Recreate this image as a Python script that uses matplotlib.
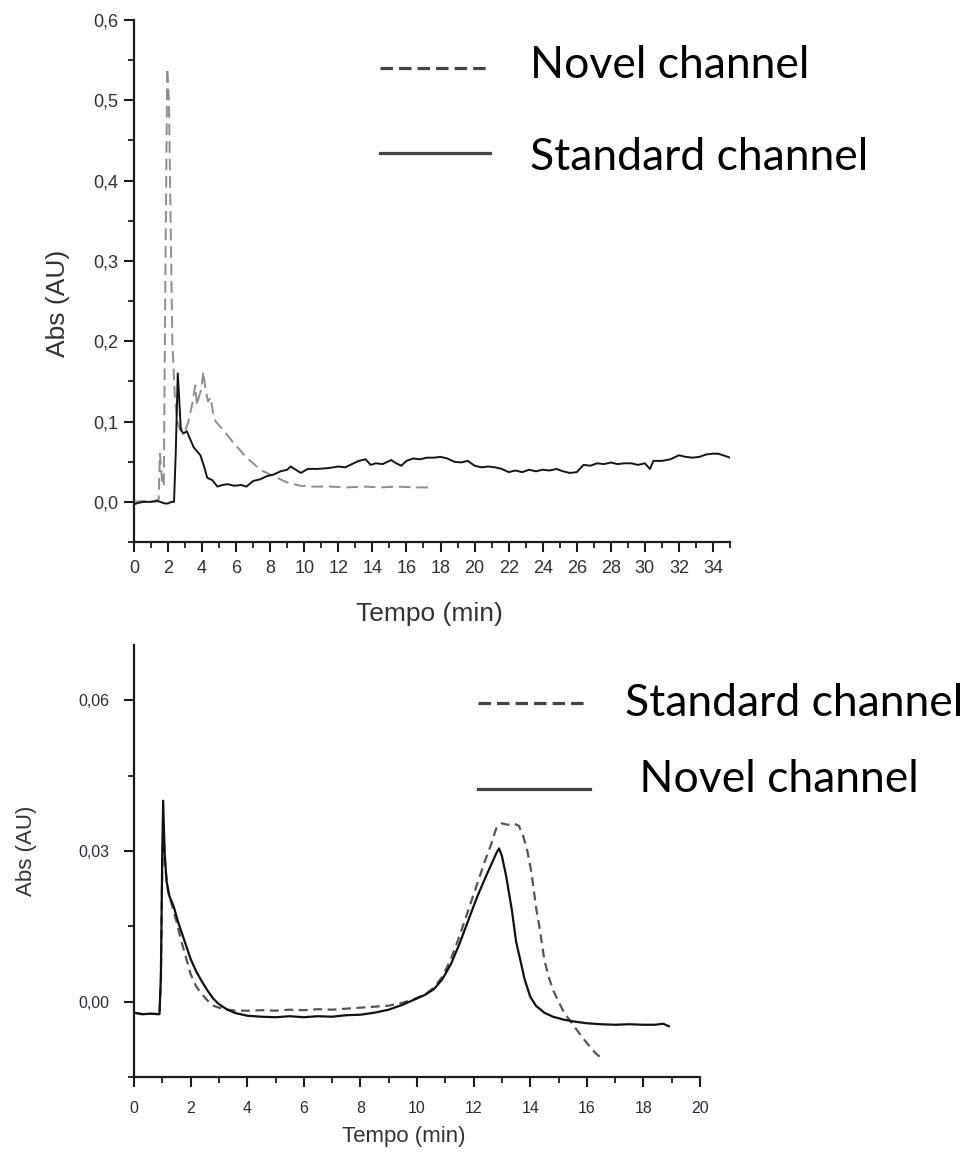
import matplotlib
matplotlib.use("Agg")
import matplotlib.pyplot as plt
from matplotlib.lines import Line2D
from matplotlib.ticker import FixedLocator, MultipleLocator, FixedFormatter

# ---- Upper chromatogram (0-35 min) ----
top_std_t = [0, 0.3, 0.6, 1.0, 1.4, 1.8, 2.0, 2.2, 2.35, 2.45, 2.57, 2.65, 2.75, 2.9,
             3.1, 3.3, 3.5, 3.9, 4.1, 4.3, 4.6, 4.9, 5.2, 5.5, 5.9, 6.3, 6.6, 7.0,
             7.4, 7.8, 8.2, 8.6, 9.0, 9.2, 9.5, 9.8, 10.2, 10.8, 11.4, 12.0, 12.4,
             12.8, 13.2, 13.6, 13.9, 14.2, 14.6, 15.1, 15.4, 15.7, 16.0, 16.4, 16.8,
             17.2, 17.6, 18.0, 18.4, 18.8, 19.2, 19.6, 20.0, 20.4, 20.8, 21.2, 21.6,
             22.0, 22.4, 22.8, 23.2, 23.6, 24.0, 24.4, 24.8, 25.2, 25.6, 26.0, 26.4,
             26.8, 27.2, 27.6, 28.0, 28.4, 28.8, 29.2, 29.6, 30.0, 30.3, 30.5, 31.0,
             31.5, 32.0, 32.4, 32.8, 33.2, 33.6, 34.0, 34.3, 34.6, 35.0]
top_std_y = [-0.003, -0.001, 0.0, 0.0, 0.001, -0.002, -0.002, 0.0, 0.0, 0.06,
             0.16, 0.13, 0.09, 0.085, 0.088, 0.078, 0.068, 0.058, 0.045, 0.030,
             0.027, 0.019, 0.021, 0.022, 0.020, 0.021, 0.019, 0.026, 0.028, 0.032,
             0.034, 0.038, 0.040, 0.044, 0.040, 0.036, 0.041, 0.041, 0.042, 0.044,
             0.043, 0.047, 0.051, 0.053, 0.046, 0.048, 0.047, 0.052, 0.048, 0.045,
             0.051, 0.054, 0.053, 0.055, 0.055, 0.056, 0.054, 0.050, 0.049, 0.051,
             0.045, 0.043, 0.044, 0.043, 0.041, 0.037, 0.039, 0.037, 0.040, 0.038,
             0.040, 0.039, 0.041, 0.038, 0.036, 0.037, 0.046, 0.045, 0.048, 0.047,
             0.049, 0.047, 0.048, 0.048, 0.046, 0.048, 0.041, 0.051, 0.051, 0.053,
             0.058, 0.056, 0.055, 0.056, 0.059, 0.060, 0.060, 0.058, 0.055]

top_nov_t = [0, 0.5, 1.0, 1.45, 1.52, 1.6, 1.68, 1.75, 1.85, 1.95, 2.05, 2.15, 2.25,
             2.4, 2.55, 2.7, 2.85, 3.0, 3.2, 3.4, 3.6, 3.7, 3.8, 3.95, 4.07, 4.2,
             4.35, 4.5, 4.65, 4.8, 5.0, 5.3, 5.6, 5.9, 6.2, 6.6, 7.0, 7.4, 7.8, 8.2,
             8.6, 9.0, 9.4, 9.8, 10.5, 11.5, 12.5, 13.5, 14.5, 15.5, 16.5, 17.3]
top_nov_y = [0.0, 0.001, 0.0, 0.003, 0.06, 0.04, 0.02, 0.02, 0.30, 0.54, 0.50,
             0.35, 0.20, 0.13, 0.10, 0.09, 0.092, 0.088, 0.10, 0.12, 0.145, 0.12,
             0.13, 0.14, 0.162, 0.14, 0.125, 0.13, 0.11, 0.10, 0.095, 0.088, 0.08,
             0.072, 0.065, 0.055, 0.048, 0.040, 0.036, 0.032, 0.028, 0.024, 0.022,
             0.020, 0.019, 0.019, 0.018, 0.019, 0.018, 0.019, 0.018, 0.018]

top_yticks = [0.0, 0.1, 0.2, 0.3, 0.4, 0.5, 0.6]
top_yticklabels = ["0,0", "0,1", "0,2", "0,3", "0,4", "0,5", "0,6"]
top_xticks = list(range(0, 36, 2))
top_legend = ["Novel channel", "Standard channel"]

# ---- Lower chromatogram (0-20 min) ----
bot_nov_t = [0, 0.3, 0.6, 0.9, 0.95, 1.0, 1.03, 1.08, 1.15, 1.25, 1.4, 1.55, 1.7,
             1.85, 2.0, 2.2, 2.4, 2.6, 2.8, 3.0, 3.3, 3.6, 4.0, 4.5, 5.0, 5.5, 6.0,
             6.5, 7.0, 7.5, 8.0, 8.5, 9.0, 9.5, 9.9, 10.3, 10.6, 10.9, 11.2, 11.5,
             11.8, 12.1, 12.4, 12.6, 12.8, 12.9, 13.0, 13.15, 13.35, 13.5, 13.65,
             13.8, 14.0, 14.2, 14.5, 14.8, 15.2, 15.6, 16.0, 16.5, 17.0, 17.5, 18.0,
             18.4, 18.7, 18.9]
bot_nov_y = [-0.0022, -0.0025, -0.0024, -0.0025, 0.005, 0.030, 0.040, 0.030,
             0.024, 0.021, 0.019, 0.016, 0.0135, 0.011, 0.0085, 0.0060, 0.0040,
             0.0022, 0.0006, -0.0005, -0.0016, -0.0023, -0.0028, -0.0030, -0.0031,
             -0.0029, -0.0031, -0.0029, -0.0030, -0.0027, -0.0026, -0.0022, -0.0016,
             -0.0006, 0.0004, 0.0014, 0.0025, 0.0045, 0.0075, 0.0115, 0.016, 0.0205,
             0.0245, 0.027, 0.0295, 0.0305, 0.029, 0.025, 0.0183, 0.012, 0.0083,
             0.0045, 0.001, -0.0008, -0.0022, -0.0030, -0.0036, -0.0040, -0.0043,
             -0.0045, -0.0046, -0.0045, -0.0046, -0.0046, -0.0044, -0.0049]

bot_std_t = [0, 0.3, 0.6, 0.9, 0.95, 1.0, 1.04, 1.1, 1.2, 1.35, 1.5, 1.65, 1.8, 2.0,
             2.2, 2.4, 2.6, 2.8, 3.0, 3.3, 3.6, 4.0, 4.5, 5.0, 5.5, 6.0, 6.5, 7.0,
             7.5, 8.0, 8.5, 9.0, 9.5, 9.9, 10.3, 10.6, 10.9, 11.2, 11.5, 11.8, 12.1,
             12.4, 12.6, 12.8, 13.0, 13.2, 13.4, 13.6, 13.75, 13.9, 14.05, 14.2,
             14.35, 14.5, 14.65, 14.8, 15.0, 15.2, 15.5, 15.8, 16.1, 16.3, 16.5]
bot_std_y = [-0.0022, -0.0025, -0.0024, -0.0025, 0.004, 0.028, 0.035, 0.027,
             0.022, 0.019, 0.016, 0.0125, 0.0095, 0.0055, 0.0030, 0.0015, 0.0002,
             -0.0008, -0.0012, -0.0016, -0.0018, -0.0018, -0.0017, -0.0018, -0.0016,
             -0.0017, -0.0015, -0.0016, -0.0014, -0.0012, -0.0010, -0.0008, -0.0002,
             0.0005, 0.0015, 0.0028, 0.005, 0.0085, 0.013, 0.018, 0.023, 0.028,
             0.031, 0.0345, 0.0355, 0.0352, 0.0355, 0.0350, 0.0330, 0.0300, 0.0255,
             0.019, 0.014, 0.0083, 0.005, 0.0024, 0.0000, -0.0022, -0.0045, -0.0068,
             -0.0089, -0.0102, -0.0112]

bot_yticks = [0.0, 0.03, 0.06]
bot_yticklabels = ["0,00", "0,03", "0,06"]
bot_xticks = list(range(0, 21, 2))
bot_legend = ["Standard channel", " Novel channel"]

W, H = 969, 1155
fig = plt.figure(figsize=(W / 100, H / 100), dpi=100)
fig.patch.set_facecolor("white")


def frac(x0, y0, x1, y1):
    """pixel box (top-left origin) -> figure fraction rect"""
    return [x0 / W, 1 - y1 / H, (x1 - x0) / W, (y1 - y0) / H]


def style_axes(ax, label_size, label_color, ypad, xpad):
    for side in ("top", "right"):
        ax.spines[side].set_visible(False)
    for side in ("left", "bottom"):
        ax.spines[side].set_linewidth(1.6)
        ax.spines[side].set_color("#1a1a1a")
    ax.tick_params(which="major", direction="out", length=7, width=1.5,
                   color="#1a1a1a", labelsize=label_size, labelcolor=label_color)
    ax.tick_params(which="minor", direction="out", length=4, width=1.3,
                   color="#1a1a1a")
    ax.tick_params(axis="y", which="major", pad=ypad)
    ax.tick_params(axis="x", which="major", pad=xpad)
    for lab in ax.get_xticklabels() + ax.get_yticklabels():
        lab.set_fontfamily("Liberation Sans")


# Upper panel
ax1 = fig.add_axes(frac(134, 20, 730, 542))
ax1.plot(top_nov_t, top_nov_y, color="#8e8e8e", lw=1.4, dashes=(6, 3))
ax1.plot(top_std_t, top_std_y, color="#151515", lw=1.4)
ax1.set_xlim(0, 35)
ax1.set_ylim(-0.05, 0.6)
ax1.xaxis.set_major_locator(FixedLocator(top_xticks))
ax1.xaxis.set_minor_locator(MultipleLocator(1))
ax1.yaxis.set_major_locator(FixedLocator(top_yticks))
ax1.yaxis.set_major_formatter(FixedFormatter(top_yticklabels))
ax1.yaxis.set_minor_locator(MultipleLocator(0.05))
style_axes(ax1, 13, "#303030", 4, 6)
ax1.set_xlabel("Tempo (min)", fontsize=19, family="Liberation Sans",
               color="#333333")
ax1.set_ylabel("Abs (AU)", fontsize=19, family="Liberation Sans",
               color="#333333")
ax1.xaxis.set_label_coords((429 - 134) / 596, -(602 - 542) / 522)
ax1.yaxis.set_label_coords(-(134 - 70) / 596, 1 - (303 - 20) / 522)

# Lower panel
ax2 = fig.add_axes(frac(134, 645, 700, 1077))
ax2.plot(bot_std_t, bot_std_y, color="#555555", lw=1.6, dashes=(4, 2.5))
ax2.plot(bot_nov_t, bot_nov_y, color="#111111", lw=1.6)
ax2.set_xlim(0, 20)
ax2.set_ylim(-0.015, 0.071)
ax2.xaxis.set_major_locator(FixedLocator(bot_xticks))
ax2.xaxis.set_minor_locator(MultipleLocator(1))
ax2.yaxis.set_major_locator(FixedLocator(bot_yticks))
ax2.yaxis.set_major_formatter(FixedFormatter(bot_yticklabels))
ax2.yaxis.set_minor_locator(MultipleLocator(0.015))
style_axes(ax2, 11.5, "#2a2a3a", 11, 10)
ax2.set_xlabel("Tempo (min)", fontsize=16, family="Liberation Sans",
               color="#333333")
ax2.set_ylabel("Abs (AU)", fontsize=16, family="Liberation Sans",
               color="#333333")
ax2.xaxis.set_label_coords((404 - 134) / 566, -(1126 - 1077) / 432)
ax2.yaxis.set_label_coords(-(134 - 37) / 566, 1 - (851 - 645) / 432)


def legend_entry(x0, x1, y_line, x_text, y_text, label, dashed):
    kw = dict(dashes=(3.9, 1.9)) if dashed else {}
    fig.add_artist(Line2D([x0 / W, x1 / W], [1 - y_line / H, 1 - y_line / H],
                          transform=fig.transFigure, color="#444444", lw=2.3,
                          **kw))
    fig.text(x_text / W, 1 - y_text / H, label, fontsize=32, family="Lato",
             color="#000000", ha="left", va="center")


legend_entry(380, 490, 68, 530, 65, top_legend[0], True)
legend_entry(380, 490, 153, 530, 157, top_legend[1], False)
legend_entry(478, 588, 703, 625, 703, bot_legend[0], True)
legend_entry(478, 590, 789, 628, 780, bot_legend[1], False)

fig.savefig("out.png", dpi=100, facecolor="white")
